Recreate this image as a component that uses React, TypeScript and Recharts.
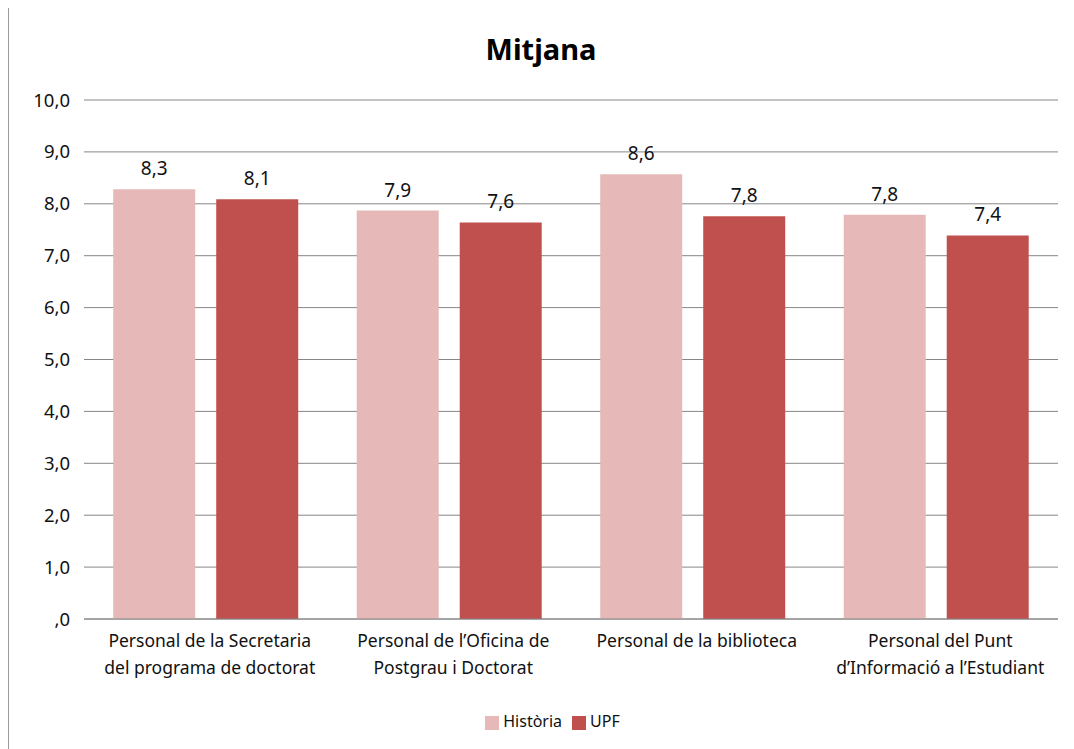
import { BarChart, Bar, XAxis, YAxis, CartesianGrid, Legend, LabelList } from 'recharts';

const categories = [
  'Personal de la Secretaria\ndel programa de doctorat',
  'Personal de l’Oficina de\nPostgrau i Doctorat',
  'Personal de la biblioteca',
  'Personal del Punt\nd’Informació a l’Estudiant',
];
const historia = [8.28, 7.87, 8.57, 7.79];
const upf = [8.09, 7.64, 7.76, 7.39];
const yTicks = [0, 1, 2, 3, 4, 5, 6, 7, 8, 9, 10];

const data = categories.map((name, i) => ({ name, historia: historia[i], upf: upf[i] }));

const font = '"Noto Sans", sans-serif';
const fmt = (v: number) => (v === 0 ? ',0' : v.toFixed(1).replace('.', ','));

function CategoryTick(props: any) {
  const { x, y, payload } = props;
  const lines = String(payload.value).split('\n');
  return (
    <g transform={`translate(${x + 4},${y})`}>
      <text textAnchor="middle" fontFamily={font} fontSize={17.5} fill="#111">
        {lines.map((l, i) => (
          <tspan key={i} x={0} dy={i === 0 ? 20 : 27}>
            {l}
          </tspan>
        ))}
      </text>
    </g>
  );
}

export default function App() {
  return (
    <div
      style={{
        position: 'relative',
        width: 1064,
        height: 742,
        marginTop: -2,
        border: '1px solid #9a9a9a',
        background: '#fff',
        fontFamily: font,
      }}
    >
      <div
        style={{
          position: 'absolute',
          top: 22,
          left: 0,
          width: 1064,
          textAlign: 'center',
          fontSize: 29,
          fontWeight: 'bold',
          color: '#000',
        }}
      >
        Mitjana
      </div>
      <BarChart
        width={1064}
        height={742}
        data={data}
        margin={{ top: 93, right: 15, left: 0, bottom: 17 }}
        barCategoryGap="12%"
        barGap={21}
      >
        <CartesianGrid vertical={false} stroke="#868686" />
        <XAxis
          dataKey="name"
          interval={0}
          height={91}
          tickLine={false}
          axisLine={{ stroke: '#868686' }}
          tick={<CategoryTick />}
        />
        <YAxis
          width={75}
          domain={[0, 10]}
          ticks={yTicks}
          tickFormatter={fmt}
          axisLine={false}
          tickLine={false}
          tickSize={0}
          tickMargin={14}
          tick={{ fontFamily: font, fontSize: 18.5, fill: '#111' }}
        />
        <Legend
          iconType="square"
          iconSize={14}
          wrapperStyle={{ fontFamily: font, fontSize: 16, paddingLeft: 24 }}
          formatter={(value) => <span style={{ color: '#111' }}>{value}</span>}
        />
        <Bar dataKey="historia" name="Història" fill="#E6B9B8" isAnimationActive={false}>
          <LabelList
            dataKey="historia"
            position="top"
            offset={14}
            formatter={(v: any) => fmt(Number(v))}
            style={{ fontFamily: font, fontSize: 19, fill: '#111' }}
          />
        </Bar>
        <Bar dataKey="upf" name="UPF" fill="#C0504D" isAnimationActive={false}>
          <LabelList
            dataKey="upf"
            position="top"
            offset={14}
            formatter={(v: any) => fmt(Number(v))}
            style={{ fontFamily: font, fontSize: 19, fill: '#111' }}
          />
        </Bar>
      </BarChart>
    </div>
  );
}
